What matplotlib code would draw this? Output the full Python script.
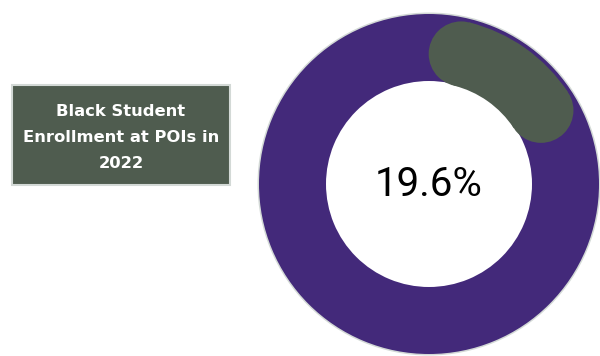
import matplotlib
matplotlib.use("Agg")
import matplotlib.pyplot as plt
from matplotlib.patches import Wedge, Circle, Rectangle
import numpy as np

# data
share = 19.6          # percent of black student enrollment
rest = 100 - share
title_lines = ["Black Student", "Enrollment at POIs in", "2022"]
label = "19.6%"

purple = "#43297a"
green = "#4f5c4f"
rim = "#d3d9d6"

fig = plt.figure(figsize=(6, 3.56), dpi=100)
ax = fig.add_axes([0, 0, 1, 1])
ax.set_xlim(0, 600)
ax.set_ylim(356, 0)
ax.set_aspect("equal")
ax.axis("off")

cx, cy = 429, 184
r_out, r_in = 170, 103

# full ring (the remainder) with a light rim
ax.add_patch(Wedge((cx, cy), r_out + 1.5, 0, 360, width=3, color=rim, lw=0))
ax.add_patch(Wedge((cx, cy), r_out, 0, 360, width=r_out - r_in, color=purple, lw=0))

# highlighted share as a rounded arc starting at 12 o'clock, clockwise
r_mid = 134
half = 32.5
span = share / 100 * 360
cap = np.degrees(half / r_mid)
a0, a1 = cap, span - cap          # angles from top, clockwise
# y axis is inverted, so matplotlib angle = a - 90
ax.add_patch(Wedge((cx, cy), r_mid + half, a0 - 90, a1 - 90, width=2 * half, color=green, lw=0))
for a in (a0, a1):
    rad = np.radians(a)
    ax.add_patch(Circle((cx + r_mid * np.sin(rad), cy - r_mid * np.cos(rad)), half, color=green, lw=0))

ax.text(cx, cy + 1, label, ha="center", va="center", fontsize=29, family="Roboto", color="black")

# title box
ax.add_patch(Rectangle((12, 85), 218, 100, facecolor=green, edgecolor=rim, lw=1.5))
for i, line in enumerate(title_lines):
    ax.text(121, 116 + i * 26, line, ha="center", va="baseline", fontsize=11.8,
            family="DejaVu Sans", fontweight="bold", color="white")

fig.savefig("out.png", dpi=100)
